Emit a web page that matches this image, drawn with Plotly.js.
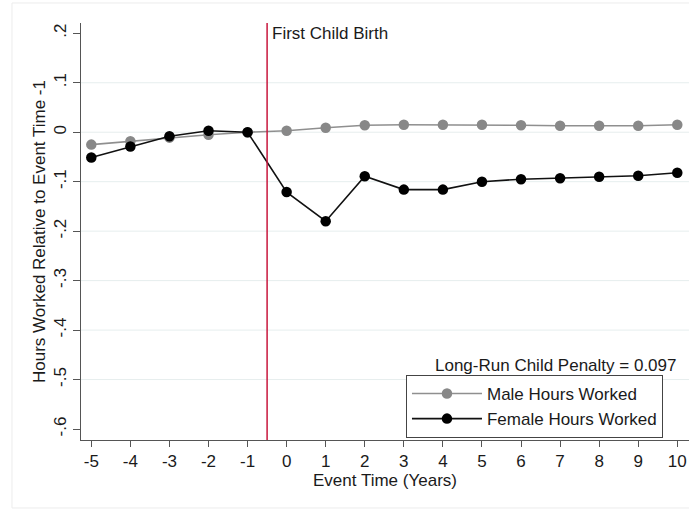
<!DOCTYPE html>
<html>
<head>
<meta charset="utf-8">
<script src="https://cdn.plot.ly/plotly-3.0.1.min.js"></script>
<style>
  html, body { margin: 0; padding: 0; background: #ffffff; }
  #chart { width: 689px; height: 510px; }
</style>
</head>
<body>
<div id="chart"></div>
<script>
// ---- data ----
const eventTime = [-5, -4, -3, -2, -1, 0, 1, 2, 3, 4, 5, 6, 7, 8, 9, 10];
const maleHours = [-0.025, -0.018, -0.011, -0.005, 0.000, 0.003, 0.009, 0.014, 0.015, 0.015, 0.015, 0.014, 0.013, 0.013, 0.013, 0.015];
const femaleHours = [-0.051, -0.029, -0.008, 0.003, 0.000, -0.121, -0.180, -0.089, -0.116, -0.116, -0.100, -0.095, -0.093, -0.090, -0.088, -0.082];
const yTickVals = [0.2, 0.1, 0, -0.1, -0.2, -0.3, -0.4, -0.5, -0.6];
const yTickText = ['.2', '.1', '0', '-.1', '-.2', '-.3', '-.4', '-.5', '-.6'];
const gridVals = [0.1, 0, -0.1, -0.2, -0.3, -0.4, -0.5];
const birthLineX = -0.5;
const seriesNames = ['Male Hours Worked', 'Female Hours Worked'];
const penaltyText = 'Long-Run Child Penalty = 0.097';
const eventLabel = 'First Child Birth';

const FONT = 'Liberation Sans, Arial, Helvetica, sans-serif';
const FS = 17;

const traces = [
  {
    x: eventTime, y: maleHours, name: seriesNames[0], type: 'scatter', mode: 'lines+markers',
    line: { color: '#8f8f8f', width: 1.6 },
    marker: { color: '#888888', size: 10.5 }
  },
  {
    x: eventTime, y: femaleHours, name: seriesNames[1], type: 'scatter', mode: 'lines+markers',
    line: { color: '#111111', width: 1.6 },
    marker: { color: '#000000', size: 10.5 }
  }
];

const shapes = gridVals.map(v => ({
  type: 'line', xref: 'paper', yref: 'y', x0: 0, x1: 1, y0: v, y1: v,
  line: { color: '#e6eeee', width: 1 }, layer: 'below'
}));
shapes.push({
  type: 'line', xref: 'x', yref: 'paper', x0: birthLineX, x1: birthLineX, y0: 0, y1: 1,
  line: { color: '#c8163c', width: 1.5 }, layer: 'above'
});
// light outer graph-region frame
shapes.push({
  type: 'rect', xref: 'paper', yref: 'paper', x0: -0.1135, x1: 1.03, y0: -0.163, y1: 1.048,
  line: { color: '#ececec', width: 1 }, fillcolor: 'rgba(0,0,0,0)', layer: 'below'
});

const layout = {
  width: 689, height: 510,
  margin: { l: 81, r: 0, t: 23, b: 70 },
  paper_bgcolor: '#ffffff', plot_bgcolor: '#ffffff',
  font: { family: FONT, size: FS, color: '#1a1a1a' },
  showlegend: true,
  xaxis: {
    range: [-5.264, 10.30], tickmode: 'array', tickvals: eventTime, ticktext: eventTime.map(String),
    ticks: 'outside', ticklen: 6, tickcolor: '#555', tickwidth: 1,
    showline: true, linecolor: '#555', linewidth: 1, mirror: false,
    showgrid: false, zeroline: false,
    tickfont: { family: FONT, size: FS, color: '#1a1a1a' },
    title: { text: 'Event Time (Years)', font: { family: FONT, size: FS, color: '#1a1a1a' }, standoff: 1 }
  },
  yaxis: {
    range: [-0.6222, 0.2208], tickmode: 'array', tickvals: yTickVals, ticktext: yTickText,
    tickangle: -90,
    ticks: 'outside', ticklen: 7, tickcolor: '#555', tickwidth: 1,
    showline: true, linecolor: '#555', linewidth: 1, mirror: false,
    showgrid: false, zeroline: false,
    tickfont: { family: FONT, size: FS, color: '#1a1a1a' },
    title: { text: 'Hours Worked Relative to Event Time -1', font: { family: FONT, size: FS, color: '#1a1a1a' }, standoff: 1 }
  },
  legend: {
    x: 0.5345, y: 0.156, xanchor: 'left', yanchor: 'top',
    bgcolor: '#ffffff', bordercolor: '#444', borderwidth: 1,
    font: { family: FONT, size: FS, color: '#1a1a1a' },
    itemwidth: 70, tracegroupgap: 0
  },
  shapes: shapes,
  annotations: [
    {
      xref: 'paper', yref: 'paper', x: 0.9819, y: 0.1775, xanchor: 'right', yanchor: 'middle',
      text: penaltyText, showarrow: false, font: { family: FONT, size: FS, color: '#1a1a1a' }
    },
    {
      xref: 'x', yref: 'paper', x: birthLineX, y: 0.975, xanchor: 'left', yanchor: 'middle', xshift: 3,
      text: eventLabel, showarrow: false, font: { family: FONT, size: FS, color: '#1a1a1a' }
    }
  ]
};

Plotly.newPlot('chart', traces, layout, { displayModeBar: false, staticPlot: true });
</script>
</body>
</html>
